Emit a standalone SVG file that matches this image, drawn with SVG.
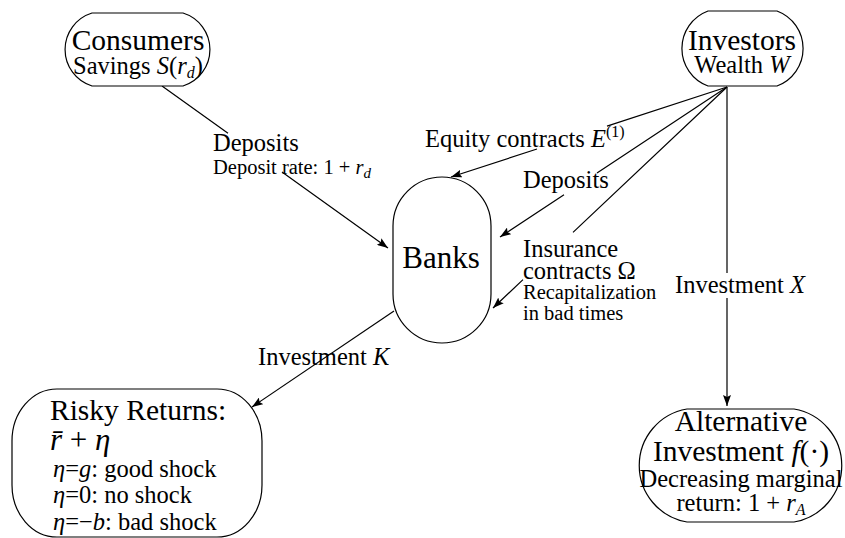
<svg xmlns="http://www.w3.org/2000/svg" width="845" height="538" viewBox="0 0 845 538" font-family="'Liberation Serif', 'DejaVu Serif', serif">
<defs>
<marker id="arr" viewBox="0 0 11 8" refX="11" refY="4" markerWidth="11" markerHeight="8" markerUnits="userSpaceOnUse" orient="auto">
<path d="M0,0 L11,4 L0,8 L2,4 z" fill="#000"/>
</marker>
<style>
.node{fill:#fff;stroke:#000;stroke-width:1.2}
.edge{fill:none;stroke:#000;stroke-width:1.2}
text{font-family:'Liberation Serif','DejaVu Serif',serif;fill:#000}
.ti{font-size:29.5px}
.nm{font-size:24.5px}
.sm{font-size:20.5px}
.c{text-anchor:middle}
.i{font-style:italic}
</style>
</defs>
<rect width="845" height="538" fill="#fff"/>

<g id="edges">
  <g id="e-consumers-banks">
    <path class="edge" d="M162,86 L228,133.3 M282,172 L388,248" marker-end="url(#arr)"/>
    <text class="nm" x="213" y="151">Deposits</text>
    <text class="sm" x="213" y="174">Deposit rate: 1 + <tspan class="i">r</tspan><tspan class="i" font-size="15" dy="4">d</tspan></text>
  </g>
  <g id="e-investors-banks-equity">
    <path class="edge" d="M727,87 L607,126.1 M537,149 L451,177" marker-end="url(#arr)"/>
    <text class="nm" x="425" y="147">Equity contracts <tspan class="i">E</tspan><tspan font-size="16" dy="-10">(1)</tspan></text>
  </g>
  <g id="e-investors-banks-deposits">
    <path class="edge" d="M727,87 L597,172.9 M564,194.7 L500,237" marker-end="url(#arr)"/>
    <text class="nm" x="523" y="188">Deposits</text>
  </g>
  <g id="e-investors-banks-insurance">
    <path class="edge" d="M727,87 L573,232.4 M523,279.6 L493,308" marker-end="url(#arr)"/>
    <text class="nm" x="523" y="257">Insurance</text>
    <text class="nm" x="523" y="279">contracts Ω</text>
    <text class="sm" x="523" y="299">Recapitalization</text>
    <text class="sm" x="523" y="320">in bad times</text>
  </g>
  <g id="e-investors-alternative">
    <path class="edge" d="M727,87 L727,273 M727,298 L727,406" marker-end="url(#arr)"/>
    <text class="nm" x="675" y="293">Investment <tspan class="i">X</tspan></text>
  </g>
  <g id="e-banks-risky">
    <path class="edge" d="M394,311 L252,407" marker-end="url(#arr)"/>
    <text class="nm" x="258" y="365">Investment <tspan class="i">K</tspan></text>
  </g>
</g>

<g id="consumers">
  <path class="node" d="M92,13 L183,13 A38.2,38.2 0 0 1 183,86 L92,86 A38.2,38.2 0 0 1 92,13 Z"/>
  <text class="ti c" x="138" y="50">Consumers</text>
  <text class="nm c" x="138" y="74">Savings <tspan class="i">S</tspan>(<tspan class="i">r</tspan><tspan class="i" font-size="16" dy="4">d</tspan><tspan dy="-4">)</tspan></text>
</g>

<g id="investors">
  <path class="node" d="M708,11 L777,11 A40,40 0 0 1 777,86 L708,86 A40,40 0 0 1 708,11 Z"/>
  <text class="ti c" x="742" y="50">Investors</text>
  <text class="nm c" x="742" y="73">Wealth <tspan class="i">W</tspan></text>
</g>

<g id="banks">
  <path class="node" d="M393,226 A49,49 0 0 1 491,226 L491,294 A49,49 0 0 1 393,294 Z"/>
  <text x="441" y="268" font-size="31" class="c">Banks</text>
</g>

<g id="risky">
  <rect class="node" x="12" y="389" width="250" height="148" rx="45" ry="52"/>
  <text class="ti" x="50" y="420">Risky Returns:</text>
  <text x="50" y="450" font-size="31"><tspan class="i">r̄</tspan> + <tspan class="i">η</tspan></text>
  <text class="nm" x="53" y="477"><tspan class="i">η</tspan>=<tspan class="i">g</tspan>: good shock</text>
  <text class="nm" x="53" y="503"><tspan class="i">η</tspan>=0: no shock</text>
  <text class="nm" x="53" y="530"><tspan class="i">η</tspan>=−<tspan class="i">b</tspan>: bad shock</text>
</g>

<g id="alternative">
  <path class="node" d="M687,409 L794,409 A57.3,57.3 0 0 1 794,522 L687,522 A57.3,57.3 0 0 1 687,409 Z"/>
  <text class="ti c" x="741" y="431">Alternative</text>
  <text class="ti c" x="741" y="461">Investment <tspan class="i">f</tspan>(·)</text>
  <text class="nm c" x="741" y="487">Decreasing marginal</text>
  <text class="nm c" x="741" y="511">return: 1 + <tspan class="i">r</tspan><tspan class="i" font-size="16" dy="4">A</tspan></text>
</g>
</svg>
